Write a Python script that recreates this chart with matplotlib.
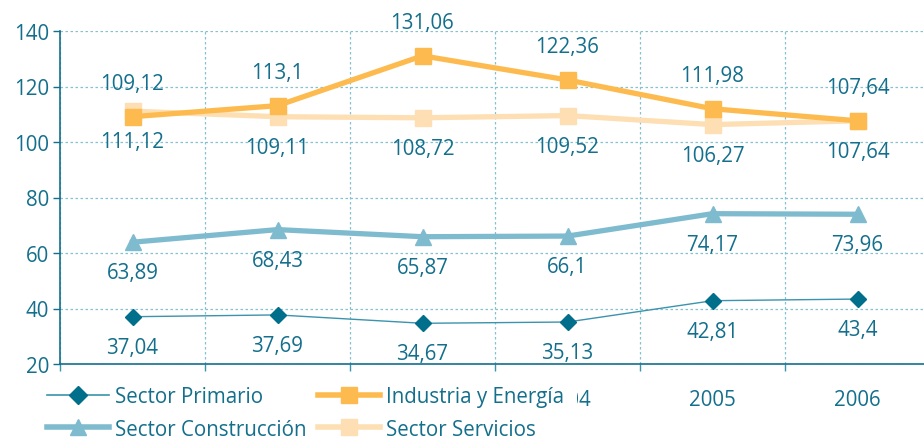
import matplotlib
matplotlib.use("Agg")
import matplotlib.pyplot as plt
from matplotlib.lines import Line2D

plt.rcParams['font.family'] = ['Open Sans', 'DejaVu Sans']

years = ["2001", "2002", "2003", "2004", "2005", "2006"]
primario = [37.04, 37.69, 34.67, 35.13, 42.81, 43.4]
construccion = [63.89, 68.43, 65.87, 66.1, 74.17, 73.96]
industria = [109.12, 113.1, 131.06, 122.36, 111.98, 107.64]
servicios = [111.12, 109.11, 108.72, 109.52, 106.27, 107.64]
yticks = [20, 40, 60, 80, 100, 120, 140]

TXT = '#136f8c'
C_PRIM_M = '#006f8b'
C_PRIM_L = '#3b93ad'
C_CONS = '#7fbbcf'
C_IND = '#fdbb4f'
C_SERV = '#fddfb3'
GRID = '#86c0d3'

fig = plt.figure(figsize=(9.24, 4.39), dpi=100)
ax = fig.add_axes([60/924, 1-365/439, 870/924, 333/439])

x = list(range(len(years)))
ax.plot(x, servicios, color=C_SERV, lw=3.8, marker='s', ms=11, zorder=3)
ax.plot(x, industria, color=C_IND, lw=3.8, marker='s', ms=11, zorder=4)
ax.plot(x, construccion, color=C_CONS, lw=3.8, marker='^', ms=12, zorder=3)
ax.plot(x, primario, color=C_PRIM_L, lw=1.0, marker='D', ms=8.5,
        mfc=C_PRIM_M, mec=C_PRIM_M, zorder=3)

def fmt(v):
    s = f"{v:.2f}".rstrip('0').rstrip('.')
    return s.replace('.', ',')

fs = 14.8
for xi, v in zip(x, industria):
    ax.annotate(fmt(v), (xi, v), xytext=(0, 24), textcoords='offset points',
                ha='center', va='center', color=TXT, fontsize=fs)
for series in (servicios, construccion, primario):
    for xi, v in zip(x, series):
        ax.annotate(fmt(v), (xi, v), xytext=(0, -22), textcoords='offset points',
                    ha='center', va='center', color=TXT, fontsize=fs)

ax.set_xlim(-0.5, 5.5)
ax.set_ylim(20, 140)
ax.set_yticks(yticks)
ax.set_xticks(x)
ax.set_xticklabels(years)
ax.set_xticks([i + 0.5 for i in range(-1, 6)], minor=True)
ax.tick_params(axis='x', which='major', length=0, pad=18, labelsize=fs, labelcolor=TXT)
ax.tick_params(axis='x', which='minor', length=5, color=C_PRIM_L, width=1)
ax.tick_params(axis='y', length=5, color=TXT, width=1, labelsize=fs, labelcolor=TXT, pad=3)

ax.grid(True, axis='y', which='major', color=GRID, ls=(0, (2, 2)), lw=0.9)
ax.grid(True, axis='x', which='minor', color=GRID, ls=(0, (2, 2)), lw=0.9)
ax.set_axisbelow(True)
for s in ('top', 'right'):
    ax.spines[s].set_visible(False)
ax.spines['left'].set_color(TXT)
ax.spines['bottom'].set_color(TXT)
ax.spines['left'].set_linewidth(1.2)
ax.spines['bottom'].set_linewidth(1.2)

handles = [
    Line2D([], [], color=C_PRIM_L, lw=1.2, marker='D', ms=9, mfc=C_PRIM_M, mec=C_PRIM_M),
    Line2D([], [], color=C_CONS, lw=4, marker='^', ms=12),
    Line2D([], [], color=C_IND, lw=4, marker='s', ms=11),
    Line2D([], [], color=C_SERV, lw=4, marker='s', ms=11),
]
labels = ["Sector Primario", "Sector Construcción", "Industria y Energía", "Sector Servicios"]
leg = fig.legend(handles, labels, ncol=2, loc='upper left',
                 bbox_to_anchor=(35/924, 1-375/439), frameon=True, facecolor='white',
                 edgecolor='none', framealpha=1, fontsize=fs, handlelength=3.0,
                 columnspacing=0.57, labelspacing=0.55, handletextpad=0.3,
                 borderpad=0.6, borderaxespad=0)
for t in leg.get_texts():
    t.set_color(TXT)
leg.set_zorder(20)

fig.savefig("out.png", dpi=100)
